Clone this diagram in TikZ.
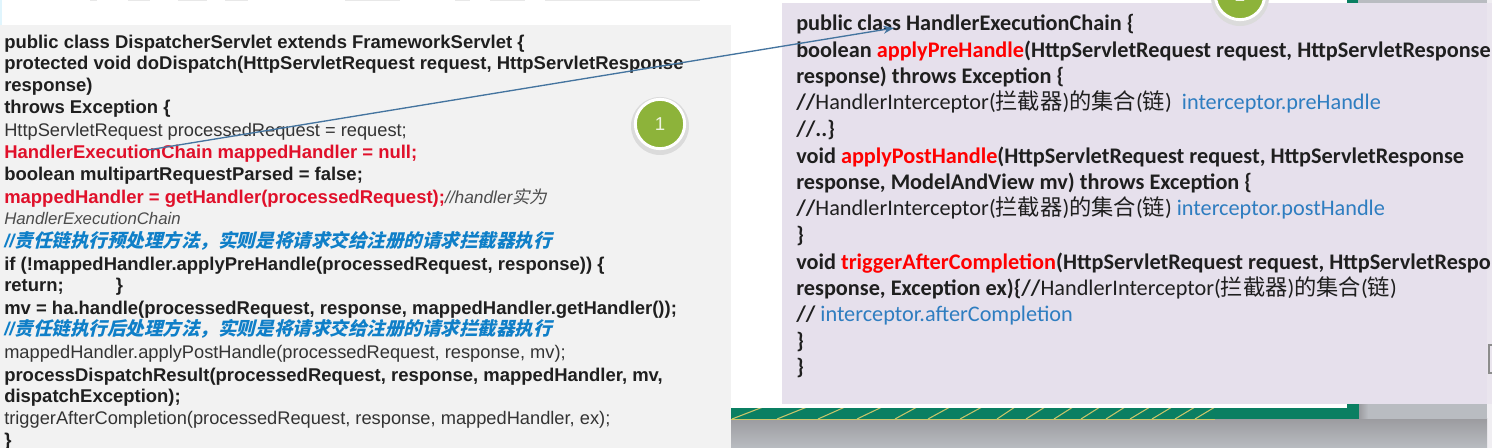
\documentclass[tikz,border=0pt]{standalone}
\usepackage{fontspec}
\usetikzlibrary{arrows.meta}
\setmainfont{Liberation Sans}
\newfontfamily\rfont{Carlito}
\newfontfamily\cjk{Noto Sans CJK SC}
\newfontfamily\cjkslant[FakeSlant=0.25]{Noto Sans CJK SC}
\definecolor{lpanel}{HTML}{F2F2F2}
\definecolor{rpanel}{HTML}{E6E0EC}
\definecolor{rstrip}{HTML}{F0EEF2}
\definecolor{lred}{HTML}{E0102A}
\definecolor{lblue}{HTML}{0F7FC8}
\definecolor{rblue}{HTML}{2E7DC0}
\definecolor{band}{HTML}{0A7F62}
\definecolor{grayb}{HTML}{B9BCC1}
\definecolor{grayd}{HTML}{9C9CA0}
\definecolor{hatch}{HTML}{C9C56A}
\definecolor{gcirc}{HTML}{8DB33A}
\definecolor{arrowc}{HTML}{44749F}
\tikzset{
  x=0.75pt,y=-0.75pt,
  ltxt/.style={anchor=base west,inner sep=0pt,font=\fontsize{13.85pt}{13.85pt}\selectfont\bfseries,text=black!88},
  lthin/.style={ltxt,font=\fontsize{13.7pt}{13.7pt}\selectfont,text=black!80},
  lnote/.style={ltxt,text=lblue,font=\fontsize{13.9pt}{13.9pt}\selectfont\bfseries\itshape},
  rtxt/.style={anchor=base west,inner sep=0pt,font=\rfont\fontsize{16.7pt}{16.7pt}\selectfont\bfseries,text=black!88},
  badge/.style={circle,fill=gcirc,draw=white,line width=2.2pt,minimum size=37pt,inner sep=0pt,text=white!85!gcirc,font=\fontsize{14pt}{14pt}\selectfont},
  link/.style={draw=arrowc,line width=1pt,-{Stealth[length=8pt,width=6pt]}},
  crumb/.style={draw=black!9,line width=1.2pt}
}
\newcommand{\lc}[1]{{\cjkslant #1}}
\newcommand{\chainzh}{{\mdseries HandlerInterceptor(\cjk 拦截器\rfont)\cjk 的集合\rfont(\cjk 链\rfont)}}
\begin{document}
\begin{tikzpicture}
\useasboundingbox (0,0) rectangle (1492,448);
\fill[white] (0,0) rectangle (1492,448);
% backgrounds
\fill[lpanel] (0,25) rectangle (731,448);
\fill[cyan!12] (0,0) rectangle (2,25);
\foreach \a/\b in {90/97,128/150,178/207,225/248,345/400,455/470,490/525,545/700}{
  \draw[crumb] (\a,0.5) -- (\b,0.5);}
\fill[rstrip] (1487,0) rectangle (1492,448);
\fill[top color=grayd,bottom color=grayb] (731,419) rectangle (1487,448);
\fill[grayb] (1359,404) rectangle (1487,419);
\fill[left color=grayd,right color=grayb] (1359,404) rectangle (1368,419);
\fill[band] (731,404) rectangle (1359,419);
\foreach \a/\b in {763/732,807/777,845/818,882/857,917/895,950/928,982/960,1015/997,1045/1026,1073/1054,1100/1081,1125/1106,1150/1130,1172/1152,1195/1175,1215/1195}{
  \draw[hatch,line width=0.8pt] (\a,407) -- (\b,419);}
\draw[hatch,line width=0.8pt] (731,419.5) -- (1215,419.5);
\fill[white] (731,0) rectangle (1347,408);
\fill[rpanel] (782,3) rectangle (1487,404);
\fill[rpanel!60!rstrip] (1487,3) rectangle (1492,404);
\fill[band] (1347,0) rectangle (1358,3);
\fill[grayb] (1358,0) rectangle (1487,3);
\draw[black!45,line width=0.8pt] (1492,345) -- (1489,345) -- (1489,373) -- (1492,373);
% badges
\fill[black!14] (660,126) circle (29);
\node[badge] (one) at (660,124) {1};
\fill[black!14] (1240,-3) circle (29);
\node[badge] (two) at (1240,-5) {2};
% left code
\node[ltxt] (l1) at (4,49) {public class DispatcherServlet extends FrameworkServlet \{};
\node[ltxt] (l2) at (4,70) {protected void doDispatch(HttpServletRequest request, HttpServletResponse};
\node[ltxt] (l3) at (4,92) {response)};
\node[ltxt] (l4) at (4,114) {throws Exception \{};
\node[lthin] (l5) at (4,137) {HttpServletRequest processedRequest = request;};
\node[ltxt,text=lred] (l6) at (4,159) {HandlerExecutionChain mappedHandler = null;};
\node[ltxt] (l7) at (4,181) {boolean multipartRequestParsed = false;};
\node[ltxt,text=lred] (l8) at (4,204) {mappedHandler = getHandler(processedRequest);{\mdseries\itshape\fontsize{13pt}{13pt}\selectfont\color{black!70}//handler\lc{实为}}};
\node[lthin,font=\fontsize{12.6pt}{12.6pt}\selectfont\itshape,text=black!70] (l9) at (4,225) {HandlerExecutionChain};
\node[lnote] (l10) at (4,248) {//\lc{责任链执行预处理方法，实则是将请求交给注册的请求拦截器执行}};
\node[ltxt] (l11) at (4,271) {if (!mappedHandler.applyPreHandle(processedRequest, response)) \{};
\node[ltxt] (l12) at (4,292) {return;\hspace{39pt}\}};
\node[ltxt] (l13) at (4,315) {mv = ha.handle(processedRequest, response, mappedHandler.getHandler());};
\node[lnote] (l14) at (4,336) {//\lc{责任链执行后处理方法，实则是将请求交给注册的请求拦截器执行}};
\node[lthin] (l15) at (4,359) {mappedHandler.applyPostHandle(processedRequest, response, mv);};
\node[ltxt] (l16) at (4,382) {processDispatchResult(processedRequest, response, mappedHandler, mv,};
\node[ltxt] (l17) at (4,403) {dispatchException);};
\node[lthin] (l18) at (4,425) {triggerAfterCompletion(processedRequest, response, mappedHandler, ex);};
\node[ltxt] (l19) at (4,447) {\}};
% right code
\begin{scope}
\clip (782,0) rectangle (1491,404);
\node[rtxt] (r1) at (796,31) {public class HandlerExecutionChain \{};
\node[rtxt] (r2) at (796,58) {boolean \textcolor{red}{applyPreHandle}(HttpServletRequest request, HttpServletResponse};
\node[rtxt] (r3) at (796,84) {response) throws Exception \{};
\node[rtxt] (r4) at (796,110) {//\chainzh~~{\mdseries\textcolor{rblue}{interceptor.preHandle}}};
\node[rtxt] (r5) at (796,137) {//..\}};
\node[rtxt] (r6) at (796,164) {void \textcolor{red}{applyPostHandle}(HttpServletRequest request, HttpServletResponse};
\node[rtxt] (r7) at (796,190) {response, ModelAndView mv) throws Exception \{};
\node[rtxt] (r8) at (796,216) {//\chainzh~{\mdseries\textcolor{rblue}{interceptor.postHandle}}};
\node[rtxt] (r9) at (796,243) {\}};
\node[rtxt] (r10) at (796,270) {void \textcolor{red}{triggerAfterCompletion}(HttpServletRequest request, HttpServletResponse};
\node[rtxt] (r11) at (796,296) {response, Exception ex)\{//\chainzh};
\node[rtxt] (r12) at (796,322) {// {\mdseries\textcolor{rblue}{interceptor.afterCompletion}}};
\node[rtxt] (r13) at (796,349) {\}};
\node[rtxt] (r14) at (796,375) {\}};
\end{scope}
% connector
\coordinate (from) at (148,150);
\coordinate (to) at (894,28);
\draw[link] (from) -- (to);
\end{tikzpicture}
\end{document}
